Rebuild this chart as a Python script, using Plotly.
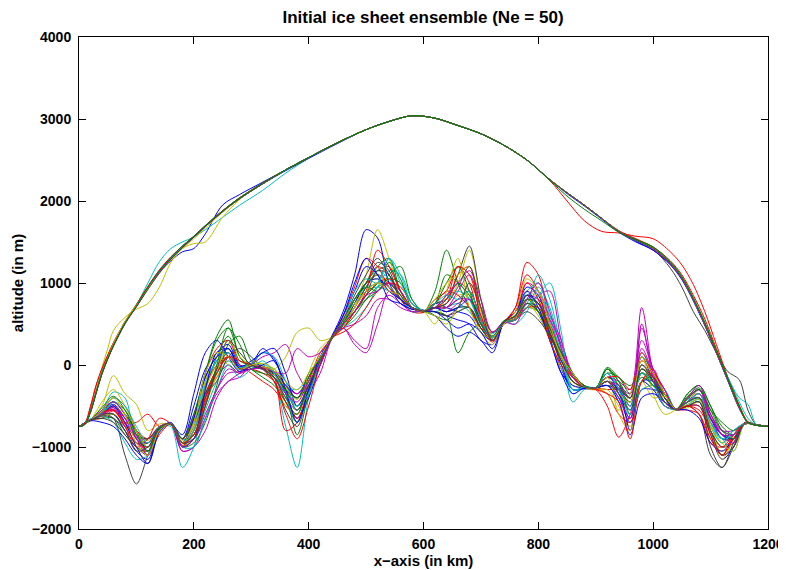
import plotly.graph_objects as go

# ---------------- data ----------------
BED_X = list(range(0, 1201, 20))  # km

bed_b1 = [-750,-660,-580,-480,-650,-900,-1000,-780,-700,-900,
          -500,-50,150,250,0,20,200,50,-200,-350,
          -150,100,350,650,1100,1650,1550,1000,800,700,
          650,750,700,650,600,400,300,500,600,850,
          750,450,100,-150,-260,-280,-150,-250,-500,-100,
          -200,-400,-540,-450,-400,-650,-900,-900,-700,-730,-750]
bed_g1 = [-750,-680,-620,-600,-750,-850,-900,-750,-730,-950,
          -650,-100,350,550,100,-20,-50,-100,-300,-500,
          -250,50,320,450,600,800,950,1000,850,700,
          650,900,1400,1000,700,450,300,520,550,700,
          650,400,150,-120,-260,-280,-50,-250,-400,-100,
          -200,-350,-540,-420,-300,-600,-850,-900,-720,-730,-750]
bed_r1 = [-750,-670,-650,-560,-700,-700,-600,-750,-720,-900,
          -850,-350,-100,100,-50,10,-30,-100,-350,-650,
          -300,50,340,550,750,1000,1200,1100,800,650,
          640,750,800,1000,900,600,350,500,700,1250,
          1100,500,100,-200,-280,-300,-500,-880,-600,-100,
          -200,-400,-550,-500,-450,-800,-1000,-900,-700,-730,-750]
bed_c1 = [-750,-660,-550,-330,-400,-900,-1000,-770,-750,-1250,
          -1000,-400,-100,100,-50,0,-50,-200,-750,-1250,
          -400,50,330,550,750,900,950,900,800,700,
          660,700,650,700,700,500,380,540,600,750,
          1100,800,200,-450,-300,-280,-250,-300,-550,100,
          -100,-400,-550,-500,-400,-750,-900,-800,-710,-730,-750]
bed_m1 = [-750,-670,-620,-550,-720,-900,-1050,-760,-720,-950,
          -850,-400,-150,0,-100,0,100,150,250,-100,
          -300,-100,310,450,300,200,700,850,750,650,
          660,650,600,650,700,450,300,500,550,700,
          850,900,300,-100,-250,-280,-150,-200,-300,700,
          -100,-450,-540,-400,-300,-650,-800,-800,-710,-730,-750]
bed_y1 = [-750,-670,-500,-130,-350,-480,-800,-720,-730,-980,
          -900,-450,-150,50,-80,0,-30,-50,100,400,
          450,300,340,500,750,1100,1650,1300,900,700,
          660,700,750,1000,1400,800,350,520,600,900,
          800,300,0,-200,-270,-280,-200,-350,-600,-100,
          -200,-350,-540,-520,-450,-900,-1050,-950,-720,-730,-750]
bed_k1 = [-750,-680,-600,-650,-1100,-1450,-1100,-780,-720,-950,
          -750,-250,50,200,-20,0,-50,-100,-300,-400,
          -200,80,330,500,700,950,1100,1000,850,700,
          660,750,800,1100,1450,800,300,500,550,750,
          700,400,100,-150,-280,-290,-200,-300,-450,0,
          -150,-400,-550,-500,-600,-1100,-1250,-950,-720,-730,-750]
bed_b2 = [-750,-670,-620,-600,-800,-1050,-1150,-800,-720,-900,
          -600,-150,100,150,-50,-10,-20,-100,-250,-400,
          -150,100,340,550,800,1000,1100,950,750,680,
          660,650,600,550,500,300,250,520,650,850,
          650,300,-50,-300,-290,-280,-250,-400,-700,-300,
          -300,-350,-540,-450,-350,-650,-850,-850,-710,-730,-750]
bed_g2 = [-750,-670,-580,-450,-600,-800,-950,-760,-720,-1000,
          -800,-300,100,350,50,0,-50,-150,-450,-700,
          -300,0,320,500,650,800,900,1050,1000,750,
          660,600,550,650,700,450,300,510,580,750,
          650,350,100,-150,-270,-280,-100,-150,-350,-150,
          -250,-350,-540,-350,-250,-500,-750,-850,-710,-730,-750]
bed_r2 = [-750,-670,-600,-500,-650,-800,-900,-770,-720,-980,
          -800,-250,0,100,-40,0,-30,-150,-800,-700,
          -300,0,320,450,650,850,1000,1050,900,700,
          650,800,900,1200,1000,500,280,520,560,800,
          700,450,50,-150,-270,-280,-300,-300,-400,50,
          -100,-300,-540,-500,-550,-800,-1100,-1000,-720,-730,-750]
bed_c2 = [-750,-670,-600,-500,-700,-850,-950,-760,-720,-950,
          -700,-200,50,200,-10,0,0,-50,-250,-300,
          -150,100,330,500,700,1000,1150,1050,850,650,
          660,650,700,750,650,450,350,530,600,850,
          900,550,150,-350,-260,-280,-200,-250,-400,150,
          -100,-350,-540,-420,-400,-700,-850,-900,-710,-730,-750]
bed_m2 = [-750,-670,-600,-540,-700,-880,-900,-750,-720,-1050,
          -1000,-650,-300,-100,-80,10,-20,-80,-250,-350,
          -150,80,330,450,500,600,800,800,700,650,
          660,700,650,750,800,550,350,520,600,850,
          800,600,300,-150,-270,-280,-200,-300,-500,450,
          -50,-300,-540,-400,-300,-650,-850,-850,-710,-730,-750]
bed_y2 = [-750,-670,-580,-500,-620,-820,-920,-760,-720,-920,
          -750,-300,0,150,-30,0,-20,-50,-250,-500,
          -250,50,330,550,800,1000,1050,900,800,700,
          660,700,700,850,850,400,250,510,550,700,
          650,350,100,-250,-270,-300,-300,-500,-750,-200,
          -300,-450,-540,-450,-350,-750,-950,-850,-710,-730,-750]
bed_k2 = [-750,-670,-600,-520,-700,-850,-900,-760,-720,-950,
          -800,-350,-50,150,-30,0,-20,-80,-300,-550,
          -300,50,330,500,700,950,1150,1200,900,700,
          660,700,700,800,900,550,300,520,580,800,
          700,400,100,-150,-270,-280,-150,-250,-400,100,
          -200,-450,-540,-450,-400,-700,-900,-900,-710,-730,-750]
bed_b3 = [-750,-670,-560,-450,-600,-800,-1050,-800,-720,-850,
          -350,150,300,100,-80,0,150,80,-350,-650,
          -400,0,330,600,900,1200,1100,800,750,680,
          670,600,450,350,400,300,150,520,650,950,
          850,350,-100,-250,-280,-280,-100,-350,-650,-200,
          -300,-500,-540,-500,-500,-850,-1150,-1000,-710,-730,-750]
bed_g3 = [-750,-670,-650,-650,-850,-1000,-1050,-780,-720,-1000,
          -950,-700,-250,250,350,50,-40,-120,-350,-850,
          -350,50,320,480,650,850,1000,1250,1050,700,
          650,650,600,150,400,500,350,530,580,800,
          700,450,150,-100,-250,-280,-50,-200,-400,-50,
          -200,-350,-540,-380,-280,-550,-800,-850,-710,-730,-750]
bed_r3 = [-750,-670,-550,-400,-500,-800,-1100,-850,-720,-900,
          -650,-100,200,300,0,-100,-200,-300,-500,-600,
          -200,150,330,600,950,1300,1200,950,800,700,
          660,750,900,850,700,450,400,520,550,700,
          700,500,150,-100,-270,-290,-350,-600,-700,-200,
          -50,-400,-540,-550,-600,-950,-1000,-850,-710,-730,-750]
bed_c3 = [-750,-670,-620,-700,-950,-1150,-1100,-780,-720,-900,
          -900,-550,-200,50,-60,0,150,100,-200,-550,
          -250,50,330,450,550,700,950,1150,1100,800,
          660,700,850,1000,800,500,350,520,500,650,
          950,700,200,-150,-270,-280,-200,-450,-600,-300,
          -250,-300,-540,-450,-450,-750,-900,-1050,-710,-730,-750]
bed_m3 = [-750,-670,-600,-500,-650,-850,-1000,-760,-720,-1050,
          -1000,-800,-400,-200,-150,0,-30,-80,-250,-350,
          -200,50,330,500,700,900,1000,950,800,700,
          660,700,700,900,1100,700,400,520,600,1000,
          900,500,150,-150,-270,-280,-200,-250,-350,300,
          -50,-300,-540,-450,-300,-600,-800,-850,-710,-730,-750]
bed_y3 = [-750,-670,-620,-600,-700,-1000,-1200,-820,-720,-950,
          -800,-200,100,0,-100,50,0,-200,-500,-600,
          -100,200,330,450,700,1000,1100,950,800,700,
          660,600,500,700,1000,650,300,520,600,750,
          600,300,-50,-200,-270,-280,-350,-550,-350,100,
          -350,-600,-540,-400,-350,-700,-1100,-900,-710,-730,-750]
bed_k3 = [-750,-670,-600,-600,-800,-950,-950,-760,-720,-950,
          -850,-400,-100,100,-50,0,-20,-80,-250,-400,
          -200,60,330,550,800,1000,1250,1150,800,700,
          660,700,650,700,700,450,300,520,580,750,
          650,400,100,-150,-270,-280,-200,-300,-450,-50,
          -150,-350,-540,-500,-450,-800,-1000,-950,-710,-730,-750]
bed_b4 = [-750,-670,-590,-500,-700,-1000,-1200,-800,-720,-950,
          -650,-150,100,200,-20,50,150,200,-100,-500,
          -250,50,330,500,750,1000,1050,950,800,700,
          660,700,650,700,800,550,350,520,600,850,
          750,400,0,-300,-280,-280,-200,-300,-800,-200,
          -200,-400,-540,-450,-400,-650,-850,-900,-710,-730,-750]
bed_g4 = [-750,-670,-600,-450,-550,-800,-1000,-780,-720,-900,
          -600,-100,300,450,100,-50,-150,-250,-450,-600,
          -150,100,330,500,800,1000,1200,1300,900,700,
          660,750,1000,1200,900,500,330,520,600,800,
          650,350,100,-150,-270,-280,-50,-200,-600,-200,
          -150,-400,-540,-400,-300,-550,-700,-800,-710,-730,-750]
bed_r4 = [-750,-670,-600,-550,-750,-1000,-900,-650,-720,-1000,
          -900,-400,-50,100,-50,-50,-100,-200,-450,-650,
          -300,50,330,400,500,700,900,1000,950,750,
          660,700,750,1100,1200,550,330,520,700,1100,
          900,400,50,-150,-270,-280,-150,-150,-300,150,
          -150,-500,-540,-500,-500,-850,-1100,-850,-710,-730,-750]
bed_c4 = [-750,-670,-600,-450,-600,-850,-1000,-760,-720,-950,
          -800,-250,50,150,-30,0,-50,-150,-400,-700,
          -300,60,330,550,800,950,1000,1300,1100,750,
          660,700,800,900,800,500,330,520,600,900,
          1000,600,120,-300,-270,-280,-200,-280,-500,-100,
          -250,-450,-540,-480,-420,-700,-900,-850,-710,-730,-750]
bed_m4 = [-750,-670,-600,-520,-700,-880,-950,-760,-720,-950,
          -900,-650,-350,-200,-100,0,-20,-80,-100,200,
          100,150,330,450,250,150,500,900,800,700,
          660,700,700,800,800,500,330,520,580,800,
          750,550,250,-150,-270,-280,-200,-280,-400,200,
          -100,-350,-540,-450,-350,-650,-850,-850,-710,-730,-750]
bed_y4 = [-750,-670,-450,-300,-500,-800,-1000,-760,-720,-950,
          -850,-500,-100,300,100,0,-20,-80,-280,-420,
          -200,60,330,500,700,900,1000,950,820,700,
          660,500,900,1300,700,400,330,520,580,800,
          700,420,120,-150,-270,-300,-150,-600,-800,-200,
          -400,-380,-540,-480,-420,-800,-1150,-900,-710,-730,-750]
bed_k4 = [-750,-670,-650,-700,-850,-1000,-1100,-800,-720,-900,
          -700,-350,-200,100,200,100,-50,-200,-550,-750,
          -300,50,330,500,650,850,1150,1100,800,700,
          660,650,600,700,1000,700,400,520,550,650,
          550,350,50,-200,-270,-280,-250,-300,-400,0,
          -200,-500,-540,-500,-450,-1000,-1250,-1000,-710,-730,-750]
bed_b5 = [-750,-680,-700,-750,-900,-1100,-1200,-820,-720,-1000,
          -900,-300,150,200,-50,-50,0,50,-300,-700,
          -300,100,330,600,1000,1300,1100,900,800,700,
          660,650,550,450,500,400,200,520,650,900,
          700,300,-100,-350,-280,-280,-250,-450,-850,-400,
          -350,-450,-540,-550,-650,-950,-1050,-900,-710,-730,-750]
bed_g5 = [-750,-670,-520,-380,-550,-850,-1050,-770,-720,-950,
          -850,-500,0,450,250,-50,-100,-150,-300,-400,
          -100,80,320,520,800,950,900,1100,1200,800,
          650,750,1100,1000,850,500,350,540,600,800,
          750,450,150,-100,-250,-280,-30,-150,-250,-100,
          -250,-350,-540,-350,-250,-500,-800,-900,-710,-730,-750]
bed_r5 = [-750,-670,-580,-550,-750,-950,-1000,-760,-720,-950,
          -850,-450,-100,100,50,0,-50,-200,-600,-900,
          -500,0,330,450,650,900,1400,1200,900,700,
          660,700,800,1200,1100,600,300,520,650,1000,
          800,300,0,-150,-270,-300,-350,-450,-900,-200,
          -100,-350,-540,-500,-600,-900,-1100,-900,-710,-730,-750]
bed_c5 = [-750,-660,-580,-400,-500,-750,-950,-760,-720,-1000,
          -1000,-650,-300,0,-150,-50,50,-100,-350,-500,
          -350,50,330,550,900,1050,1000,1300,1000,750,
          660,750,850,800,900,550,330,520,550,700,
          850,1000,400,-300,-270,-280,-100,-300,-600,-100,
          -200,-500,-540,-450,-350,-750,-950,-800,-710,-730,-750]
bed_m5 = [-750,-670,-550,-450,-600,-900,-1100,-800,-720,-1000,
          -900,-600,-300,-50,-100,-50,-50,-150,-350,-450,
          -200,0,330,500,650,850,900,1000,900,700,
          660,700,850,1000,1150,800,400,520,500,800,
          1000,650,200,-150,-270,-280,-200,-400,-650,500,
          -150,-450,-540,-400,-250,-600,-850,-950,-710,-730,-750]
bed_y5 = [-750,-670,-560,-400,-600,-950,-1100,-800,-720,-950,
          -700,-100,150,100,-50,0,20,-50,-200,-300,
          -100,100,330,550,750,900,1000,900,850,700,
          660,800,1000,1100,1200,700,350,500,650,1050,
          900,500,100,-100,-270,-280,-200,-350,-450,50,
          -100,-350,-540,-450,-400,-750,-950,-1050,-710,-730,-750]
bed_k5 = [-750,-670,-620,-650,-800,-1050,-1000,-760,-720,-950,
          -900,-500,-50,300,150,0,-50,-150,-400,-550,
          -250,50,330,550,850,1100,1300,1100,850,700,
          660,700,750,950,1200,700,300,520,600,850,
          750,400,50,-200,-270,-280,-200,-350,-550,-50,
          -200,-450,-540,-450,-400,-800,-1100,-1000,-710,-730,-750]

SURF_X = [0,10,20,30,40,50,60,80,100,120,
          140,160,180,200,220,250,280,320,360,400,
          450,500,540,580,620,660,700,740,780,820,
          850,880,910,940,970,1000,1030,1050,1070,1090,
          1110,1130,1150,1165,1180,1200]

surf_b1 = [-750,-725,-570,-330,-100,80,240,510,720,940,
           1130,1270,1380,1420,1600,1950,2080,2230,2380,2530,
           2710,2870,2970,3040,3010,2920,2820,2680,2500,2260,
           2100,1950,1790,1630,1510,1400,1220,1040,780,480,
           150,-190,-520,-700,-735,-750]
surf_r1 = [-750,-720,-520,-250,-50,120,270,520,720,940,
           1140,1300,1440,1560,1690,1870,2030,2210,2380,2530,
           2710,2870,2970,3040,3010,2920,2820,2680,2500,2250,
           2000,1760,1630,1610,1570,1540,1380,1220,980,650,
           250,-150,-500,-700,-735,-750]
surf_c1 = [-750,-725,-570,-330,-100,80,240,510,730,1000,
           1260,1420,1500,1560,1650,1800,1950,2130,2340,2520,
           2710,2870,2970,3040,3010,2920,2820,2680,2500,2260,
           2100,1950,1790,1630,1520,1420,1240,1060,800,500,
           170,-150,-450,-650,-735,-750]
surf_m1 = [-750,-725,-570,-330,-100,80,240,510,720,940,
           1140,1300,1440,1560,1690,1870,2030,2210,2380,2530,
           2710,2870,2970,3040,3010,2920,2820,2680,2500,2260,
           2100,1950,1790,1630,1520,1420,1240,1060,800,500,
           160,-180,-520,-700,-735,-750]
surf_y1 = [-750,-725,-560,-300,-30,200,420,580,680,750,
           950,1250,1420,1480,1500,1800,2020,2210,2380,2530,
           2710,2870,2970,3040,3010,2920,2820,2680,2500,2260,
           2100,1950,1790,1630,1520,1420,1240,1060,800,500,
           160,-180,-520,-700,-735,-750]
surf_k1 = [-750,-725,-570,-330,-100,80,240,510,720,940,
           1140,1300,1440,1560,1690,1870,2030,2210,2380,2530,
           2710,2870,2970,3040,3010,2920,2820,2680,2500,2260,
           2100,1950,1790,1630,1520,1410,1180,950,650,420,
           150,-80,-180,-550,-730,-750]
surf_g1 = [-750,-725,-570,-330,-100,80,240,510,720,940,
           1140,1300,1440,1560,1690,1870,2030,2210,2380,2530,
           2710,2870,2970,3040,3010,2920,2820,2680,2500,2260,
           2100,1950,1790,1630,1530,1430,1250,1070,810,510,
           170,-170,-510,-700,-735,-750]
surf_b2 = [-750,-725,-560,-320,-90,90,250,520,730,950,
           1150,1310,1450,1570,1700,1880,2040,2210,2370,2520,
           2700,2870,2970,3040,3010,2920,2820,2680,2500,2260,
           2090,1940,1780,1620,1500,1400,1230,1050,790,490,
           150,-190,-530,-700,-735,-750]
surf_r2 = [-750,-710,-500,-240,-40,120,270,530,740,960,
           1160,1320,1450,1570,1700,1880,2040,2220,2380,2530,
           2710,2870,2970,3040,3010,2920,2820,2680,2500,2260,
           2100,1950,1790,1640,1540,1440,1270,1100,850,560,
           200,-150,-490,-690,-735,-750]
surf_c2 = [-750,-725,-570,-330,-100,80,240,510,720,940,
           1140,1300,1440,1560,1690,1870,2030,2210,2380,2530,
           2710,2870,2970,3040,3010,2920,2820,2680,2500,2260,
           2100,1950,1790,1630,1520,1420,1240,1060,800,500,
           170,-150,-400,-480,-730,-750]
surf_m2 = [-750,-725,-575,-340,-110,70,230,500,710,930,
           1130,1290,1430,1560,1690,1870,2030,2210,2380,2530,
           2710,2870,2970,3040,3010,2920,2820,2680,2500,2260,
           2100,1950,1790,1630,1520,1410,1230,1050,790,490,
           150,-190,-530,-700,-735,-750]
surf_y2 = [-750,-725,-570,-320,-90,90,260,530,730,930,
           1120,1280,1420,1540,1670,1860,2030,2210,2380,2530,
           2710,2870,2970,3040,3010,2920,2820,2680,2500,2260,
           2100,1950,1790,1630,1520,1420,1240,1060,800,500,
           160,-180,-520,-700,-735,-750]
surf_k2 = [-750,-725,-570,-330,-100,80,240,510,710,920,
           1120,1290,1430,1560,1690,1870,2030,2210,2380,2530,
           2710,2870,2970,3040,3010,2920,2820,2680,2500,2260,
           2100,1950,1790,1630,1520,1420,1240,1060,800,500,
           160,-180,-520,-700,-735,-750]
surf_g2 = [-750,-725,-580,-340,-110,70,230,500,720,950,
           1150,1310,1450,1570,1700,1880,2040,2220,2380,2530,
           2710,2870,2970,3040,3010,2920,2820,2680,2500,2250,
           2060,1900,1760,1620,1530,1440,1260,1080,820,520,
           180,-160,-500,-700,-735,-750]

X_TICKS = [0, 200, 400, 600, 800, 1000, 1200]
Y_TICKS = [-2000, -1000, 0, 1000, 2000, 3000, 4000]
TITLE = "Initial ice sheet ensemble (Ne = 50)"
X_LABEL = "x\u2212axis (in km)"
Y_LABEL = "altitude (in m)"

# ---------------- styling ----------------
C = {"b": "#0000FF", "g": "#008000", "r": "#FF0000", "c": "#00BFBF",
     "m": "#BF00BF", "y": "#BFBF00", "k": "#404040"}

beds = [
    (bed_b1, "b"), (bed_g1, "g"), (bed_r1, "r"), (bed_c1, "c"), (bed_m1, "m"), (bed_y1, "y"), (bed_k1, "k"),
    (bed_b2, "b"), (bed_g2, "g"), (bed_r2, "r"), (bed_c2, "c"), (bed_m2, "m"), (bed_y2, "y"), (bed_k2, "k"),
    (bed_b3, "b"), (bed_g3, "g"), (bed_r3, "r"), (bed_c3, "c"), (bed_m3, "m"), (bed_y3, "y"), (bed_k3, "k"),
    (bed_b4, "b"), (bed_g4, "g"), (bed_r4, "r"), (bed_c4, "c"), (bed_m4, "m"), (bed_y4, "y"), (bed_k4, "k"),
    (bed_b5, "b"), (bed_g5, "g"), (bed_r5, "r"), (bed_c5, "c"), (bed_m5, "m"), (bed_y5, "y"), (bed_k5, "k"),
]
surfs = [
    (surf_b1, "b"), (surf_r1, "r"), (surf_c1, "c"), (surf_m1, "m"), (surf_y1, "y"), (surf_k1, "k"), (surf_g1, "g"),
    (surf_b2, "b"), (surf_r2, "r"), (surf_c2, "c"), (surf_m2, "m"), (surf_y2, "y"), (surf_k2, "k"), (surf_g2, "g"),
]

fig = go.Figure()
for ys, col in beds:
    fig.add_trace(go.Scatter(x=BED_X, y=ys, mode="lines",
                             line=dict(color=C[col], width=1, shape="spline", smoothing=0.9),
                             showlegend=False, hoverinfo="skip"))
for ys, col in surfs:
    fig.add_trace(go.Scatter(x=SURF_X, y=ys, mode="lines",
                             line=dict(color=C[col], width=1, shape="spline", smoothing=0.9),
                             showlegend=False, hoverinfo="skip"))

FONT = "Liberation Sans, Arial, Helvetica, sans-serif"
axis_common = dict(ticks="inside", ticklen=7, tickwidth=1, tickcolor="black",
                   showline=True, linecolor="black", linewidth=1, mirror="ticks",
                   showgrid=False, zeroline=False, automargin=False,
                   tickfont=dict(family=FONT, size=14, color="black", weight=700))

fig.update_xaxes(range=[0, 1200], tickvals=X_TICKS, ticklabelstandoff=2,
                 title=dict(text=X_LABEL, standoff=2,
                            font=dict(family=FONT, size=15, color="black", weight=700)),
                 **axis_common)
fig.update_yaxes(range=[-2000, 4000], tickvals=Y_TICKS, ticklabelstandoff=4,
                 title=dict(text=Y_LABEL, standoff=4,
                            font=dict(family=FONT, size=15, color="black", weight=700)),
                 **axis_common)

# the page body adds an 8px offset; margins compensate so the frame lands
# at x 79..768, y 37..529 in the window
fig.update_layout(
    width=786, height=570,
    margin=dict(l=71, r=26, t=29, b=49, autoexpand=False),
    paper_bgcolor="white", plot_bgcolor="white",
    title=dict(text=TITLE, x=415 / 786, xanchor="center", y=1 - 9 / 570, yanchor="middle",
               yref="container", automargin=False,
               font=dict(family=FONT, size=17, color="black", weight=700)),
)

fig.write_html("out.html")
